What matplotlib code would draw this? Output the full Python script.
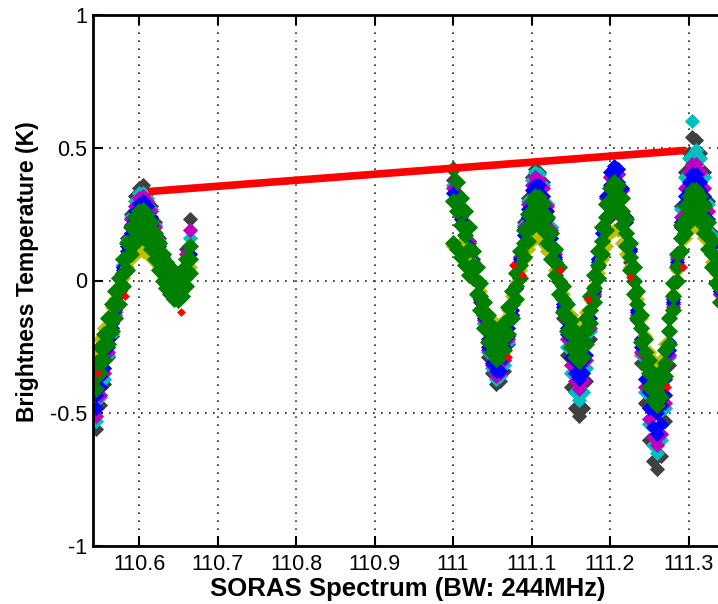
import matplotlib.pyplot as plt

plt.rcParams['font.family'] = ['Liberation Sans', 'DejaVu Sans']

# frequency channels of the two sub-bands
freq = [110.545, 110.550, 110.555, 110.560, 110.565, 110.570, 110.575, 110.580, 110.585,
        110.590, 110.595, 110.600, 110.605, 110.610, 110.615, 110.620, 110.625, 110.630,
        110.635, 110.640, 110.645, 110.650, 110.655, 110.660, 110.665,
        111.000, 111.005, 111.010, 111.015, 111.020, 111.025, 111.030, 111.035, 111.040,
        111.045, 111.050, 111.055, 111.060, 111.065, 111.070, 111.075, 111.080, 111.085,
        111.090, 111.095, 111.100, 111.105, 111.110, 111.115, 111.120, 111.125, 111.130,
        111.135, 111.140, 111.145, 111.150, 111.155, 111.160, 111.165, 111.170, 111.175,
        111.180, 111.185, 111.190, 111.195, 111.200, 111.205, 111.210, 111.215, 111.220,
        111.225, 111.230, 111.235, 111.240, 111.245, 111.250, 111.255, 111.260, 111.265,
        111.270, 111.275, 111.280, 111.285, 111.290, 111.295, 111.300, 111.305, 111.310,
        111.315, 111.320, 111.325, 111.330, 111.335, 111.340]

# brightness temperature (K) of each run, drawn in MATLAB colour order
tb_gray = [-0.56, -0.47, -0.39, -0.29, -0.21, -0.13, -0.05, 0.06, 0.16, 0.25, 0.32, 0.35, 0.36,
           0.33, 0.28, 0.22, 0.16, 0.09, 0.04, 0.01, -0.05, -0.07, -0.04, 0.12, 0.23,
           0.38, 0.33, 0.26, 0.21, 0.15, 0.08, 0.00, -0.08, -0.16,
           -0.29, -0.35, -0.39, -0.38, -0.34, -0.24, -0.14, -0.03,
           0.09, 0.22, 0.31, 0.39, 0.42, 0.41, 0.37, 0.29, 0.20, 0.11, 0.00,
           -0.14, -0.28, -0.40, -0.48, -0.51, -0.48, -0.38, -0.22, -0.06,
           0.05, 0.12, 0.19, 0.24, 0.26, 0.25, 0.21, 0.14, 0.07, 0.00,
           -0.15, -0.31, -0.46, -0.60, -0.68, -0.71, -0.66, -0.53, -0.32, -0.10,
           0.09, 0.28, 0.41, 0.48, 0.54, 0.53, 0.48, 0.41, 0.30, 0.18, 0.07, -0.05]
tb_cyan = [-0.53, -0.44, -0.37, -0.28, -0.20, -0.13, -0.05, 0.06, 0.15, 0.24, 0.30, 0.33, 0.33,
           0.31, 0.27, 0.21, 0.15, 0.09, 0.04, 0.01, -0.02, -0.03, -0.01, 0.08, 0.16,
           0.36, 0.31, 0.25, 0.20, 0.14, 0.07, 0.00, -0.07, -0.16,
           -0.27, -0.33, -0.37, -0.36, -0.32, -0.23, -0.14, -0.03,
           0.09, 0.21, 0.30, 0.38, 0.41, 0.40, 0.36, 0.29, 0.20, 0.11, 0.00,
           -0.12, -0.25, -0.35, -0.42, -0.45, -0.42, -0.33, -0.19, -0.05,
           0.08, 0.20, 0.31, 0.39, 0.42, 0.40, 0.34, 0.23, 0.12, 0.00,
           -0.14, -0.28, -0.42, -0.54, -0.62, -0.65, -0.60, -0.48, -0.29, -0.09,
           0.09, 0.27, 0.39, 0.46, 0.60, 0.49, 0.46, 0.39, 0.29, 0.17, 0.07, -0.05]
tb_magenta = [-0.51, -0.43, -0.35, -0.27, -0.19, -0.12, -0.05, 0.05, 0.14, 0.23, 0.28, 0.31, 0.32,
              0.30, 0.26, 0.20, 0.14, 0.08, 0.04, 0.01, -0.02, -0.03, -0.01, 0.10, 0.19,
              0.35, 0.30, 0.24, 0.20, 0.14, 0.07, 0.00, -0.07, -0.15,
              -0.26, -0.32, -0.36, -0.35, -0.30, -0.22, -0.13, -0.03,
              0.09, 0.20, 0.29, 0.36, 0.39, 0.38, 0.35, 0.28, 0.19, 0.10, 0.00,
              -0.11, -0.22, -0.32, -0.38, -0.41, -0.38, -0.30, -0.18, -0.05,
              0.08, 0.20, 0.31, 0.39, 0.42, 0.40, 0.34, 0.23, 0.12, 0.00,
              -0.13, -0.27, -0.40, -0.52, -0.59, -0.62, -0.58, -0.46, -0.28, -0.09,
              0.08, 0.24, 0.35, 0.41, 0.44, 0.44, 0.41, 0.35, 0.26, 0.15, 0.06, -0.05]
tb_blue2 = [-0.48, -0.40, -0.33, -0.25, -0.18, -0.11, -0.05, 0.05, 0.13, 0.21, 0.26, 0.29, 0.30,
            0.28, 0.24, 0.18, 0.13, 0.07, 0.03, 0.01, -0.02, -0.03, -0.01, 0.05, 0.13,
            0.33, 0.29, 0.23, 0.19, 0.13, 0.07, 0.00, -0.07, -0.14,
            -0.25, -0.31, -0.34, -0.34, -0.29, -0.21, -0.13, -0.03,
            0.08, 0.19, 0.27, 0.34, 0.36, 0.36, 0.32, 0.26, 0.18, 0.09, 0.00,
            -0.10, -0.20, -0.29, -0.35, -0.37, -0.35, -0.28, -0.16, -0.04,
            0.08, 0.20, 0.32, 0.41, 0.43, 0.42, 0.35, 0.24, 0.12, 0.00,
            -0.12, -0.25, -0.37, -0.48, -0.55, -0.58, -0.54, -0.43, -0.26, -0.08,
            0.07, 0.22, 0.32, 0.37, 0.40, 0.40, 0.37, 0.32, 0.23, 0.14, 0.05, -0.04]
tb_blue1 = [-0.43, -0.36, -0.30, -0.22, -0.16, -0.10, -0.04, 0.04, 0.11, 0.18, 0.23, 0.26, 0.26,
            0.24, 0.21, 0.16, 0.11, 0.06, 0.03, 0.00, -0.02, -0.03, -0.01, 0.04, 0.10,
            0.30, 0.26, 0.21, 0.17, 0.12, 0.06, 0.00, -0.06, -0.13,
            -0.22, -0.26, -0.29, -0.29, -0.25, -0.18, -0.11, -0.02,
            0.07, 0.17, 0.24, 0.30, 0.32, 0.32, 0.29, 0.23, 0.16, 0.08, 0.00,
            -0.09, -0.18, -0.25, -0.30, -0.32, -0.30, -0.24, -0.14, -0.04,
            0.07, 0.18, 0.29, 0.36, 0.38, 0.37, 0.31, 0.22, 0.11, 0.00,
            -0.11, -0.22, -0.32, -0.42, -0.48, -0.50, -0.47, -0.37, -0.23, -0.07,
            0.06, 0.20, 0.29, 0.34, 0.37, 0.37, 0.34, 0.29, 0.22, 0.13, 0.05, -0.04]
tb_yellow = [-0.26, -0.22, -0.18, -0.14, -0.10, -0.07, -0.03, 0.01, 0.05, 0.08, 0.10, 0.11, 0.11,
             0.10, 0.09, 0.07, 0.05, 0.02, 0.00, -0.04, -0.07, -0.06, -0.03, 0.01, 0.05,
             0.13, 0.12, 0.14, 0.11, 0.08, 0.04, 0.00, -0.04, -0.08,
             -0.13, -0.15, -0.17, -0.17, -0.15, -0.11, -0.06, -0.01,
             0.04, 0.08, 0.12, 0.15, 0.16, 0.16, 0.14, 0.11, 0.08, 0.04, 0.00,
             -0.05, -0.09, -0.13, -0.16, -0.17, -0.16, -0.12, -0.07, -0.02,
             0.03, 0.08, 0.13, 0.18, 0.19, 0.19, 0.14, 0.10, 0.05, 0.00,
             -0.07, -0.14, -0.21, -0.27, -0.30, -0.32, -0.30, -0.24, -0.14, -0.05,
             0.04, 0.11, 0.16, 0.19, 0.20, 0.20, 0.19, 0.16, 0.12, 0.07, 0.03, -0.02]
tb_green_hi = [-0.31, -0.25, -0.20, -0.14, -0.09, -0.04, 0.01, 0.08, 0.14, 0.20, 0.24, 0.26, 0.265,
               0.25, 0.22, 0.18, 0.14, 0.10, 0.07, 0.05, 0.03, 0.025, 0.04, 0.08, 0.13,
               0.42, 0.37, 0.31, 0.26, 0.20, 0.11, 0.05, -0.01, -0.08, -0.13,
               -0.17, -0.195, -0.19, -0.16, -0.10, -0.04, 0.03, 0.11, 0.19, 0.25,
               0.30, 0.32, 0.315, 0.29, 0.24, 0.18, 0.12, 0.05, -0.02, -0.09,
               -0.15, -0.19, -0.205, -0.19, -0.14, -0.06, 0.02, 0.11, 0.20, 0.29,
               0.35, 0.37, 0.36, 0.31, 0.23, 0.14, 0.05, -0.04, -0.13, -0.22,
               -0.30, -0.35, -0.37, -0.34, -0.26, -0.14, -0.01, 0.10, 0.21, 0.28,
               0.32, 0.34, 0.34, 0.32, 0.28, 0.22, 0.15, 0.09, 0.02]
tb_green = [-0.36, -0.30, -0.25, -0.19, -0.14, -0.09, -0.04, 0.03, 0.09, 0.15, 0.19, 0.21, 0.215,
            0.20, 0.17, 0.13, 0.09, 0.05, 0.02, 0.00, -0.02, -0.025, -0.01, 0.03, 0.08,
            0.30, 0.26, 0.21, 0.17, 0.12, 0.06, 0.00, -0.06, -0.13, -0.18,
            -0.22, -0.245, -0.24, -0.21, -0.15, -0.09, -0.02, 0.06, 0.14, 0.20,
            0.25, 0.27, 0.265, 0.24, 0.19, 0.13, 0.07, 0.00, -0.07, -0.14,
            -0.20, -0.24, -0.255, -0.24, -0.19, -0.11, -0.03, 0.06, 0.15, 0.24,
            0.30, 0.32, 0.31, 0.26, 0.18, 0.09, 0.00, -0.09, -0.18, -0.27,
            -0.35, -0.40, -0.42, -0.39, -0.31, -0.19, -0.06, 0.05, 0.16, 0.23,
            0.27, 0.29, 0.29, 0.27, 0.23, 0.17, 0.10, 0.04, -0.03]
tb_green_lo = [-0.41, -0.35, -0.30, -0.24, -0.19, -0.14, -0.09, -0.02, 0.04, 0.10, 0.14, 0.16, 0.165,
               0.15, 0.12, 0.08, 0.04, 0.00, -0.03, -0.05, -0.07, -0.075, -0.06, -0.02, 0.03,
               0.14, 0.12, 0.09, 0.06, 0.02, 0.01, -0.05, -0.11, -0.18, -0.23,
               -0.27, -0.295, -0.29, -0.26, -0.20, -0.14, -0.07, 0.01, 0.09, 0.15,
               0.20, 0.22, 0.215, 0.19, 0.14, 0.08, 0.02, -0.05, -0.12, -0.19,
               -0.25, -0.29, -0.305, -0.29, -0.24, -0.16, -0.08, 0.01, 0.10, 0.19,
               0.25, 0.27, 0.26, 0.21, 0.13, 0.04, -0.05, -0.14, -0.23, -0.32,
               -0.40, -0.45, -0.47, -0.44, -0.36, -0.24, -0.11, 0.00, 0.11, 0.18,
               0.22, 0.24, 0.24, 0.22, 0.18, 0.12, 0.05, -0.01, -0.08]

# sparse red run
red_f = [110.548, 110.582, 110.653, 111.070, 111.076, 111.088, 111.136, 111.172, 111.225, 111.273, 111.293]
red_tb = [-0.35, -0.06, -0.12, -0.29, 0.06, 0.02, 0.04, -0.07, 0.015, -0.40, 0.05]

# peak envelope line
env_f = [110.612, 111.296]
env_tb = [0.335, 0.49]

xticks = [110.6, 110.7, 110.8, 110.9, 111.0, 111.1, 111.2, 111.3]
xticklabels = ['110.6', '110.7', '110.8', '110.9', '111', '111.1', '111.2', '111.3']
yticks = [-1, -0.5, 0, 0.5, 1]
yticklabels = ['-1', '-0.5', '0', '0.5', '1']

fig = plt.figure(figsize=(7.18, 6.04), dpi=100)
ax = fig.add_axes([93 / 718, 1 - 546 / 604, 674 / 718, 531 / 604])

runs = [(tb_gray, '#404040', 7.5), (tb_cyan, '#00BFBF', 7.5), (tb_magenta, '#BF00BF', 7.5),
        (tb_blue2, '#0000FF', 7.5), (tb_blue1, '#0000FF', 7.5), (tb_yellow, '#BFBF00', 7.5),
        (tb_green_lo, '#008000', 8), (tb_green, '#008000', 8), (tb_green_hi, '#008000', 8)]
for tb, col, size in runs:
    ax.plot(freq, tb, linestyle='none', marker='D', ms=size, mfc=col, mec=col, mew=0.6)
ax.plot(red_f, red_tb, linestyle='none', marker='D', ms=4, mfc='#FF0000', mec='#FF0000', mew=0.4)

ax.plot(env_f, env_tb, color='#FF0000', lw=5.5, solid_capstyle='butt')

ax.set_xlim(110.5414, 111.4)
ax.set_ylim(-1, 1)
ax.set_xticks(xticks)
ax.set_xticklabels(xticklabels)
ax.set_yticks(yticks)
ax.set_yticklabels(yticklabels)
ax.tick_params(direction='in', length=7, width=1.5, top=True, right=True, labelsize=15.5, colors='black')
ax.tick_params(axis='x', pad=6)
ax.tick_params(axis='y', pad=4)
for s in ax.spines.values():
    s.set_linewidth(2)
ax.set_axisbelow(True)
ax.grid(True, linestyle=(0, (1, 3.8)), color='#222222', lw=1.2)

fig.text(408 / 718, 1 - 589 / 604, 'SORAS Spectrum (BW: 244MHz)', ha='center', va='center',
         fontsize=18.5, fontweight='bold')
fig.text(28 / 718, 1 - 272 / 604, 'Brightness Temperature (K)', ha='center', va='center',
         rotation=90, fontsize=16.5, fontweight='bold')

fig.savefig('out.png', dpi=100)
